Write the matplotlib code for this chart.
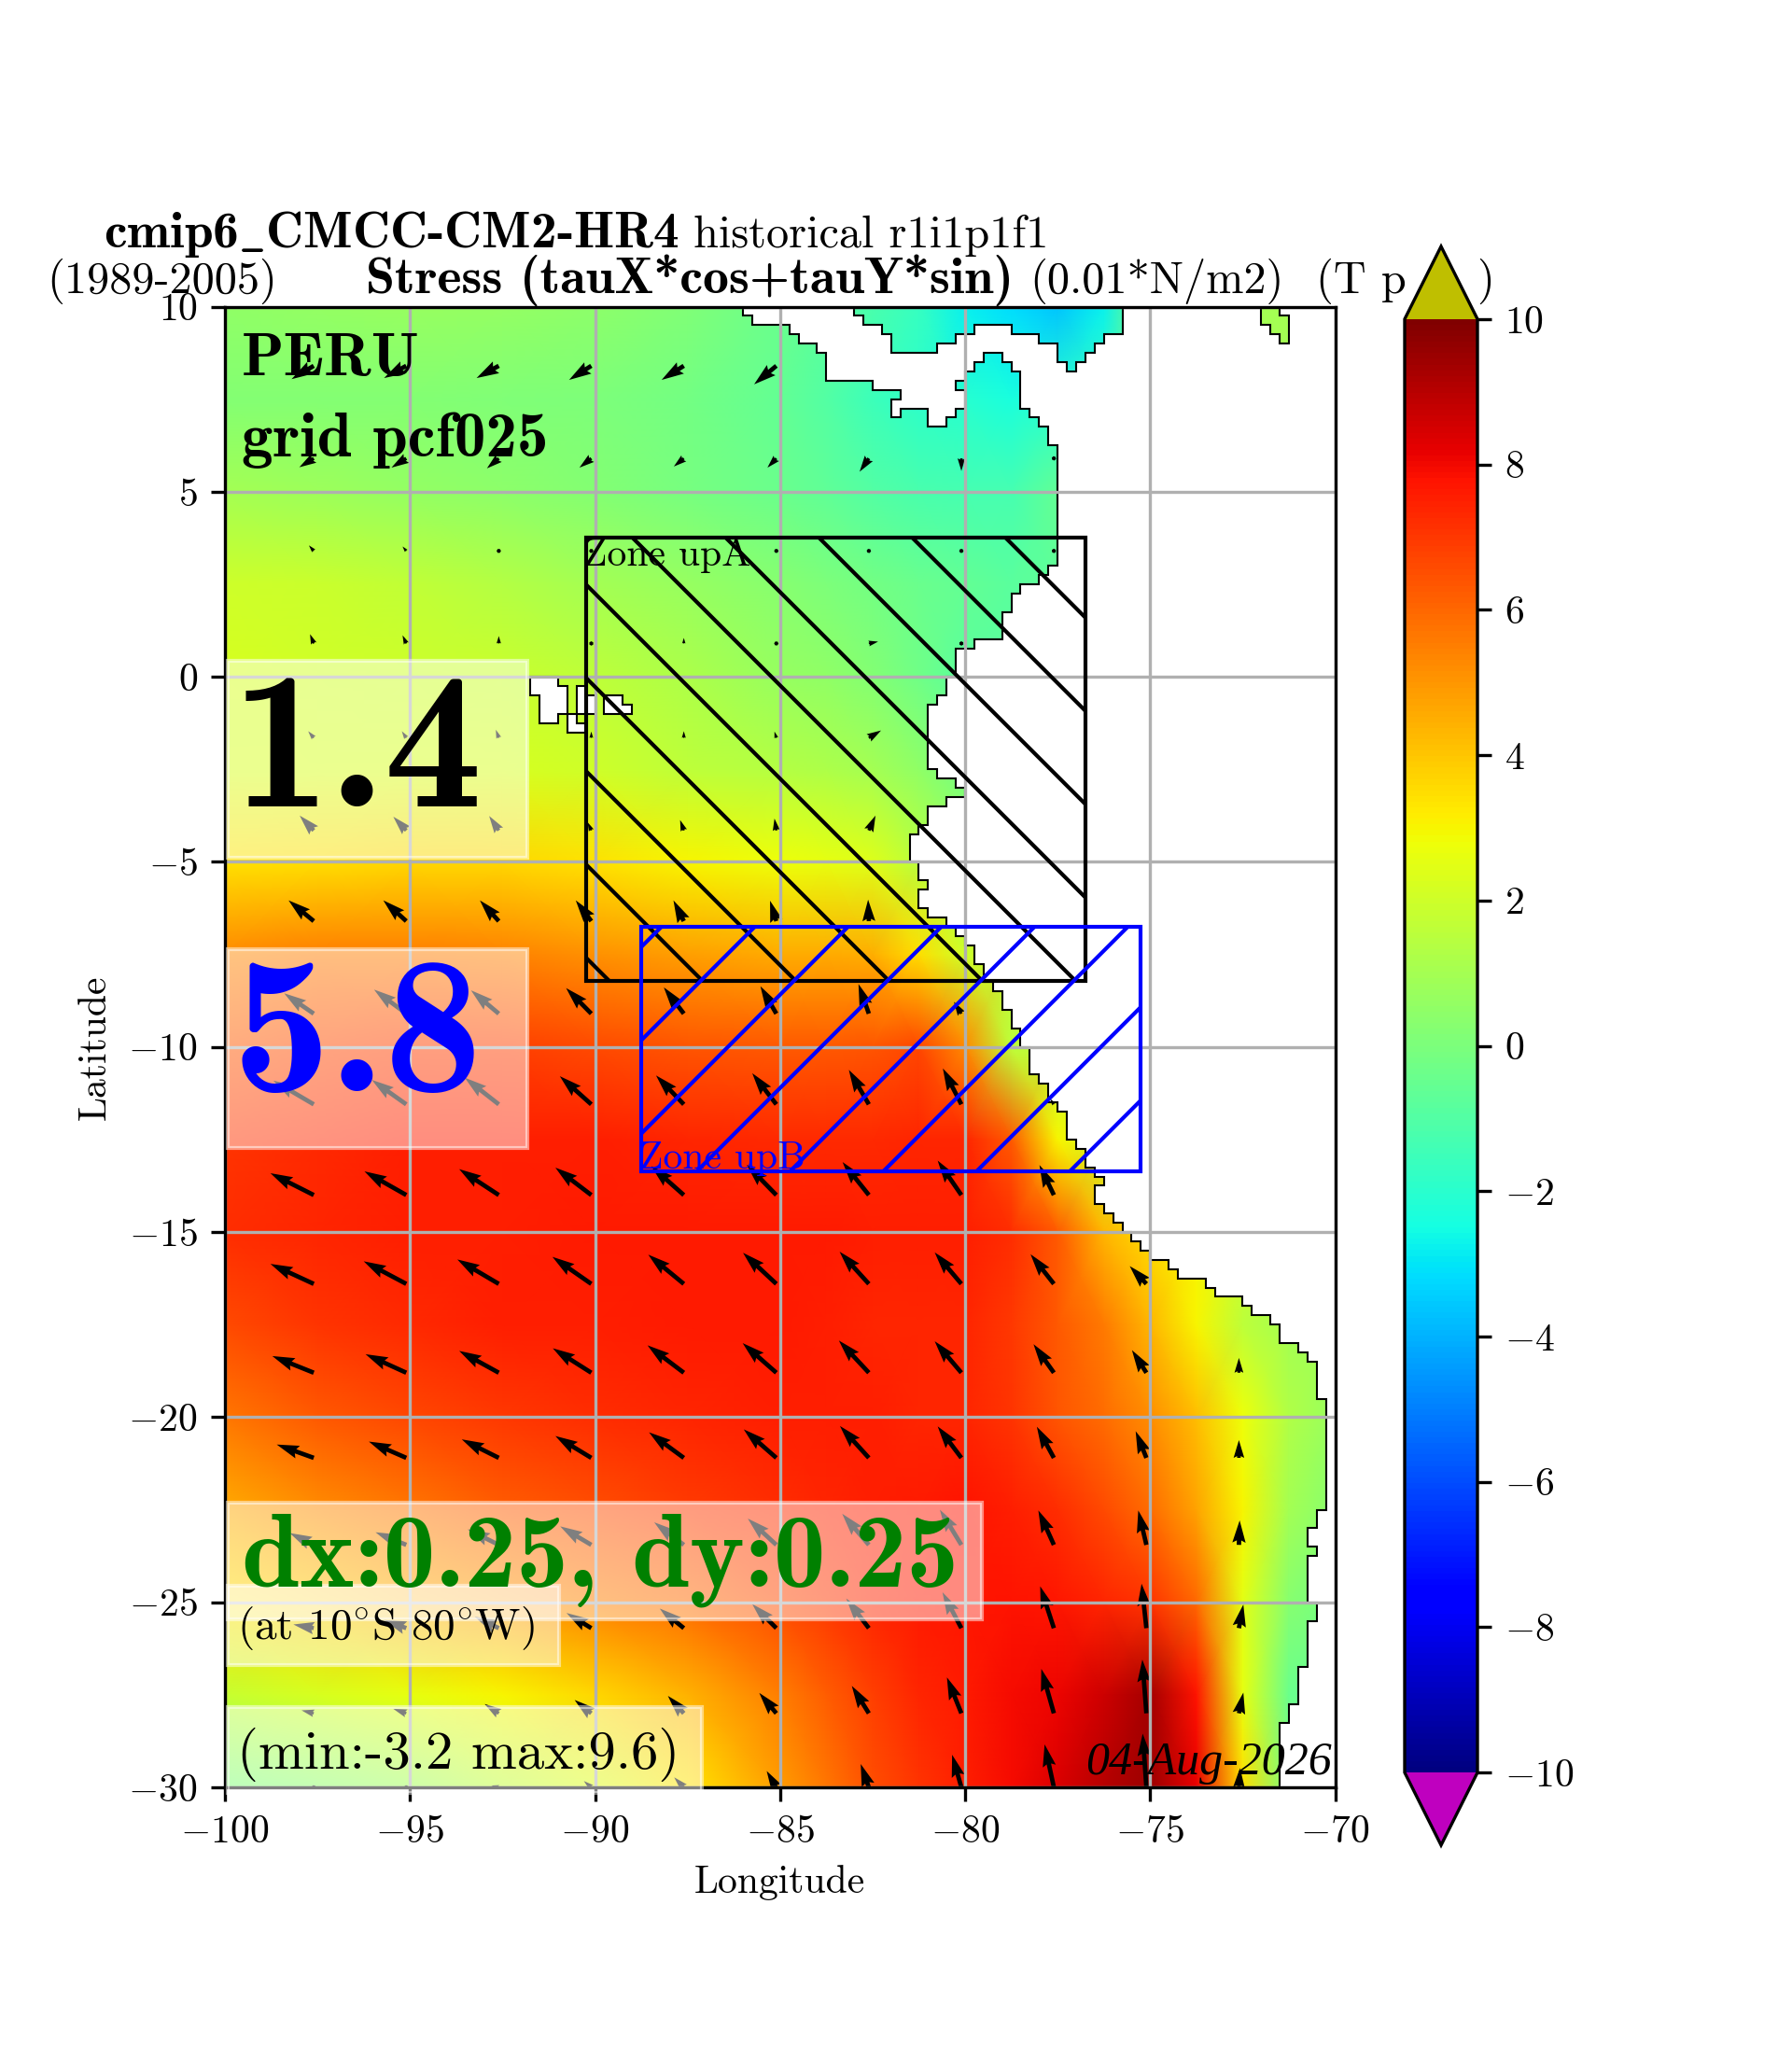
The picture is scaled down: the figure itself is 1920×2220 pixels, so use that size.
import matplotlib
matplotlib.use('Agg')
import matplotlib.pyplot as plt
from matplotlib.path import Path
from matplotlib.patches import PathPatch, Rectangle, Polygon
import numpy as np

plt.rcParams['font.family'] = ['cmr10', 'DejaVu Sans']
plt.rcParams['axes.formatter.use_mathtext'] = True
plt.rcParams['mathtext.fontset'] = 'cm'
plt.rcParams['font.size'] = 10

# stress field (0.01*N/m2)
grid_lon = [-100, -97.5, -95, -92.5, -90, -87.5, -85, -83.75, -82.5, -81.25, -80, -78.75, -77.5, -76.25, -75, -73.75, -72.5, -71.25, -70]
grid_lat = [10, 7.5, 5, 2.5, 0, -2.5, -5, -7.5, -10, -12.5, -15, -17.5, -20, -22.5, -25, -27.5, -30]
stress = [
    [.5, .6, .7, .6, .4, .1, -.4, -.8, -1.2, -1.7, -2.8, -3.2, -3.6, -2.8, .5, 1, 1, 1, 1],
    [.2, .2, .2, .1, 0, -.2, -.6, -1, -1.5, -1.9, -2.1, -2.4, -2, -1.5, .5, 1, 1, 1, 1],
    [1, .8, .6, .4, .2, -.1, -.4, -.7, -1, -1.2, -1.3, -1.3, -.6, -1, .5, 1, 1, 1, 1],
    [2, 1.9, 1.7, 1.4, 1, .7, .3, 0, -.2, -.4, -.6, -.8, -.7, -.7, .5, 1, 1, 1, 1],
    [2.2, 2.1, 2, 1.9, 1.6, 1.2, .7, .5, .2, -.3, -.8, -.8, -.8, -.5, .5, 1, 1, 1, 1],
    [2.2, 2.2, 2.2, 2.2, 2, 1.6, 1.4, 1.2, 1, .5, -.2, 0, 0, 0, .5, 1, 1, 1, 1],
    [3.4, 3.5, 3.6, 3.6, 3.4, 3, 2.8, 2.6, 2.4, 1.5, 1, 1, 1, 1, 1, 1, 1, 1, 1],
    [5.3, 5.5, 5.5, 5.4, 5.1, 4.8, 4.6, 4.6, 4.5, 3.5, 2, 1.5, 1.5, 1.5, 1.5, 1, 1, 1, 1],
    [6.3, 6.6, 6.8, 6.8, 6.6, 6.4, 6.3, 6.3, 6.4, 6.7, 5.3, 1.6, 1.5, 1.5, 1.5, 1, 1, 1, 1],
    [7.1, 7.3, 7.5, 7.5, 7.5, 7.4, 7.3, 7.3, 7.3, 7.4, 7.4, 6.3, 3, 2, 2, 2, 1, 1, 1],
    [7.2, 7.4, 7.5, 7.5, 7.6, 7.6, 7.6, 7.6, 7.5, 7.5, 7.5, 7.2, 6.3, 4.3, 3.5, 3, 2, 1, 1],
    [6.6, 7.1, 7.3, 7.5, 7.5, 7.6, 7.6, 7.5, 7.4, 7.4, 7.4, 7, 6.3, 5.6, 4.3, 3, 1.6, 1, 1],
    [5.7, 6.3, 6.7, 7, 7.2, 7.4, 7.5, 7.5, 7.5, 7.4, 7.4, 7.1, 6.4, 5.9, 5.2, 4.2, 2.8, 1.3, .7],
    [4.6, 5.2, 5.7, 6.2, 6.5, 6.9, 7.2, 7.4, 7.5, 7.6, 7.8, 7.5, 7.2, 6.6, 5.9, 4.7, 3, 1, .3],
    [3.4, 3.9, 4.4, 4.9, 5.4, 5.9, 6.6, 7, 7.4, 7.6, 7.7, 7.8, 7.7, 7.4, 7.1, 6, 2.5, .3, -.2],
    [1.8, 2.2, 2.6, 3, 3.6, 4.4, 5.5, 6.2, 6.8, 7.4, 7.6, 7.9, 8.1, 8.6, 9.3, 7.8, 2.6, -.4, -.5],
    [0, .4, .9, 1.7, 2.4, 3.3, 4.9, 5.7, 6.5, 7.1, 7.5, 7.9, 8.4, 9, 9.5, 8.2, 3.5, 0, 0],
]

# wind arrows, in degrees on the map, nan where there is land
arrow_lon = [-97.6, -95.1, -92.6, -90.1, -87.6, -85.1, -82.6, -80.1, -77.6, -75.1, -72.6]
arrow_lat = [8.4, 5.9, 3.4, .9, -1.65, -4.15, -6.6, -9.1, -11.55, -14, -16.4, -18.8, -21.1, -23.45, -25.7, -28, -30]
n = np.nan
arrow_u = [
    [-.6, -.6, -.6, -.6, -.6, -.6, n, n, n, n, n],
    [-.39, -.4, -.32, -.32, -.27, -.24, -.25, 0, -.05, n, n],
    [-.13, -.1, 0, .03, 0, 0, -.03, -.05, -.07, n, n],
    [-.1, -.1, 0, 0, 0, -.05, .25, -.1, n, n, n],
    [-.15, -.12, -.08, 0, 0, -.05, .33, n, n, n, n],
    [-.38, -.35, -.26, -.1, -.1, -.05, .18, n, n, n, n],
    [-.68, -.62, -.51, -.42, -.28, -.17, -.02, n, n, n, n],
    [-.8, -.87, -.75, -.68, -.54, -.43, -.28, -.2, n, n, n],
    [-1.09, -.93, -.92, -.85, -.75, -.65, -.54, -.5, -.1, n, n],
    [-1.17, -1.13, -1.07, -.97, -.88, -.8, -.71, -.64, -.39, n, n],
    [-1.17, -1.15, -1.12, -1.05, -.96, -.9, -.79, -.72, -.63, -.45, n],
    [-1.12, -1.1, -1.07, -1.04, -.98, -.91, -.81, -.72, -.55, -.39, 0],
    [-1, -1.01, -1, -.97, -.94, -.88, -.78, -.64, -.46, -.29, 0],
    [-.65, -.83, -.84, -.84, -.8, -.77, -.72, -.58, -.42, -.22, .02],
    [-.55, -.6, -.65, -.67, -.65, -.65, -.61, -.51, -.37, -.13, .12],
    [-.33, -.35, -.38, -.45, -.43, -.46, -.46, -.39, -.34, -.11, .12],
    [-.05, -.05, -.2, -.2, -.26, -.26, -.22, -.25, -.25, -.1, .03],
]
arrow_v = [
    [-.36, -.33, -.33, -.38, -.38, -.5, n, n, n, n, n],
    [-.24, -.25, -.27, -.25, -.22, -.25, -.36, -.34, -.05, n, n],
    [.15, .12, 0, .05, 0, 0, .07, .08, .04, n, n],
    [.25, .22, .2, .1, .15, .1, .05, .05, n, n, n],
    [.18, .18, .22, .17, .18, .17, .2, n, n, n, n],
    [.4, .37, .39, .22, .28, .32, .4, n, n, n, n],
    [.56, .56, .56, .56, .56, .55, .58, n, n, n, n],
    [.55, .65, .63, .69, .71, .74, .8, .32, n, n, n],
    [.64, .66, .72, .76, .78, .84, .93, .97, .15, n, n],
    [.59, .64, .7, .74, .78, .82, .89, .93, .81, n, n],
    [.54, .61, .66, .73, .79, .84, .87, .85, .8, .48, n],
    [.45, .5, .59, .66, .74, .8, .87, .85, .77, .61, .4],
    [.36, .44, .5, .59, .69, .77, .86, .85, .84, .72, .48],
    [.32, .34, .42, .5, .61, .71, .84, .95, .93, .93, .66],
    [.1, .22, .31, .41, .53, .65, .8, .97, 1.13, 1.2, .64],
    [.08, .12, .25, .36, .47, .55, .74, .97, 1.2, 1.45, .56],
    [.02, .02, .05, .17, .27, .44, .63, .88, 1.16, 1.45, .52],
]

# coastline of the Pacific side, north to south, cell corners (lon, lat)
coast_pts = [(-86, 10), (-86, 9.75), (-85.75, 9.75), (-85.75, 9.5), (-84.75, 9.5), (-84.75, 9.25), (-84.5, 9.25), (-84.5, 9),
             (-84, 9), (-84, 8.75), (-83.75, 8.75), (-83.75, 8), (-82.5, 8), (-82.5, 7.75), (-81.75, 7.75), (-81.75, 7.5),
             (-82, 7.5), (-82, 7), (-81.75, 7), (-81.75, 7.25), (-81, 7.25), (-81, 6.75), (-80.5, 6.75), (-80.5, 7),
             (-80.25, 7), (-80.25, 7.25), (-80, 7.25), (-80, 7.75), (-80.25, 7.75), (-80.25, 8), (-80, 8), (-80, 8.25),
             (-79.75, 8.25), (-79.75, 8.5), (-79.5, 8.5), (-79.5, 8.75), (-79, 8.75), (-79, 8.5), (-78.75, 8.5), (-78.75, 8.25),
             (-78.5, 8.25), (-78.5, 7.25), (-78.25, 7.25), (-78.25, 7), (-78, 7), (-78, 6.75), (-77.75, 6.75), (-77.75, 6.25),
             (-77.5, 6.25), (-77.5, 3), (-77.75, 3), (-77.75, 2.75), (-78, 2.75), (-78, 2.5), (-78.5, 2.5), (-78.5, 2.25),
             (-78.75, 2.25), (-78.75, 1.75), (-79, 1.75), (-79, 1), (-79.75, 1), (-79.75, .75), (-80.25, .75), (-80.25, 0),
             (-80.5, 0), (-80.5, -.5), (-80.75, -.5), (-80.75, -.75), (-81, -.75), (-81, -2.5), (-80.75, -2.5), (-80.75, -2.75),
             (-80.25, -2.75), (-80.25, -3), (-80, -3), (-80, -3.25), (-80.5, -3.25), (-80.5, -3.5), (-81, -3.5), (-81, -4),
             (-81.25, -4), (-81.25, -4.25), (-81.5, -4.25), (-81.5, -5), (-81.25, -5), (-81.25, -5.5), (-81, -5.5), (-81, -5.75),
             (-81.25, -5.75), (-81.25, -6.25), (-81, -6.25), (-81, -6.5), (-80.5, -6.5), (-80.5, -6.75), (-80.25, -6.75), (-80.25, -7),
             (-80, -7), (-80, -7.25), (-79.75, -7.25), (-79.75, -7.75), (-79.5, -7.75), (-79.5, -8.25), (-79.25, -8.25), (-79.25, -8.5),
             (-79, -8.5), (-79, -9), (-78.75, -9), (-78.75, -9.5), (-78.5, -9.5), (-78.5, -10), (-78.25, -10), (-78.25, -10.75),
             (-78, -10.75), (-78, -11), (-77.75, -11), (-77.75, -11.5), (-77.5, -11.5), (-77.5, -11.75), (-77.25, -11.75), (-77.25, -12.5),
             (-77, -12.5), (-77, -12.75), (-76.75, -12.75), (-76.75, -13.25), (-76.5, -13.25), (-76.5, -13.5), (-76.25, -13.5), (-76.25, -13.75),
             (-76.5, -13.75), (-76.5, -14.25), (-76.25, -14.25), (-76.25, -14.5), (-76, -14.5), (-76, -14.75), (-75.75, -14.75), (-75.75, -15),
             (-75.5, -15), (-75.5, -15.25), (-75.25, -15.25), (-75.25, -15.5), (-75, -15.5), (-75, -15.75), (-74.5, -15.75), (-74.5, -16),
             (-74.25, -16), (-74.25, -16.25), (-73.5, -16.25), (-73.5, -16.5), (-73.25, -16.5), (-73.25, -16.75), (-72.5, -16.75), (-72.5, -17),
             (-72.25, -17), (-72.25, -17.25), (-71.75, -17.25), (-71.75, -17.5), (-71.5, -17.5), (-71.5, -18), (-71, -18), (-71, -18.25),
             (-70.75, -18.25), (-70.75, -18.5), (-70.5, -18.5), (-70.5, -19.5), (-70.25, -19.5), (-70.25, -22.5), (-70.5, -22.5), (-70.5, -23),
             (-70.75, -23), (-70.75, -23.5), (-70.5, -23.5), (-70.5, -23.75), (-70.75, -23.75), (-70.75, -25), (-70.5, -25), (-70.5, -25.5),
             (-70.75, -25.5), (-70.75, -26.75), (-71, -26.75), (-71, -27.75), (-71.25, -27.75), (-71.25, -28.25), (-71.5, -28.25), (-71.5, -30),
             (-100, -30), (-100, 10)]
caribbean_pts = [(-83, 10), (-83, 9.75), (-82.75, 9.75), (-82.75, 9.5), (-82.25, 9.5), (-82.25, 9.25), (-82, 9.25), (-82, 8.75),
                 (-80.75, 8.75), (-80.75, 9), (-80.25, 9), (-80.25, 9.25), (-79.75, 9.25), (-79.75, 9.5), (-78.75, 9.5), (-78.75, 9.25),
                 (-78, 9.25), (-78, 9), (-77.5, 9), (-77.5, 8.5), (-77.25, 8.5), (-77.25, 8.25), (-77, 8.25), (-77, 8.5),
                 (-76.75, 8.5), (-76.75, 8.75), (-76.5, 8.75), (-76.5, 9), (-76.25, 9), (-76.25, 9.25), (-75.75, 9.25), (-75.75, 10)]
lake_pts = [(-72, 10), (-72, 9.5), (-71.75, 9.5), (-71.75, 9.25), (-71.5, 9.25), (-71.5, 9), (-71.25, 9), (-71.25, 9.75), (-71.5, 9.75), (-71.5, 10)]
islands = [
    [(-91.75, 0), (-91, 0), (-91, -.25), (-90.75, -.25), (-90.75, -1), (-91, -1), (-91, -1.25), (-91.5, -1.25), (-91.5, -.5), (-91.75, -.5)],
    [(-90.5, -.25), (-90.25, -.25), (-90.25, -.5), (-90, -.5), (-90, -1), (-90.5, -1)],
    [(-89.75, -.5), (-89.25, -.5), (-89.25, -.75), (-89, -.75), (-89, -1), (-89.75, -1)],
    [(-90.75, -1.5), (-90.25, -1.5), (-90.25, -1.25), (-90.5, -1.25), (-90.5, -1), (-90.75, -1)],
]

# zones: west, east, south, north and where their hatch lines cross
zone_a = (-90.25, -76.75, -8.22, 3.75)
zone_b = (-88.75, -75.25, -13.35, -6.75)
hatch_a = [-97.83, -95.31, -92.79, -90.27, -87.75, -85.23, -82.71, -80.19, -77.67, -75.15]
hatch_b = [-81.45, -78.93, -76.41, -73.89, -71.37, -68.85, -66.33, -63.81]

# white boxes behind the numbers: west, east, south, north
box_mean = (-99.93, -91.83, -4.89, .43)
box_up = (-99.93, -91.83, -12.72, -7.37)
box_res = (-99.93, -79.54, -25.45, -22.31)
box_loc = (-99.93, -90.97, -26.7, -24.55)
box_rng = (-99.93, -87.1, -30.15, -27.82)

x_ticks = [-100, -95, -90, -85, -80, -75, -70]
y_ticks = [-30, -25, -20, -15, -10, -5, 0, 5, 10]
cbar_ticks = [-10, -8, -6, -4, -2, 0, 2, 4, 6, 8, 10]

W, H = 1920, 2220
fig = plt.figure(figsize=(6.4, 7.4), dpi=300)
ax = fig.add_axes([241/W, 1-1915/H, 1189.5/W, 1586.5/H])
ax.set_zorder(0)

cmap = plt.get_cmap('jet').copy()
cmap.set_over('y')
cmap.set_under('m')
mesh = ax.pcolormesh(grid_lon, grid_lat, np.array(stress), shading='gouraud', cmap=cmap, vmin=-10, vmax=10, zorder=.5)
ocean = Path.make_compound_path(Path(coast_pts + [coast_pts[0]]), Path(caribbean_pts + [caribbean_pts[0]]), Path(lake_pts + [lake_pts[0]]))
mesh.set_clip_path(ocean, ax.transData)
ax.add_patch(PathPatch(ocean, fc='none', ec='k', lw=.5, zorder=.8))
for isl in islands:
    ax.add_patch(Polygon(isl, closed=True, fc='w', ec='k', lw=.5, zorder=.8))

ax.quiver(arrow_lon, arrow_lat, arrow_u, arrow_v, angles='xy', scale_units='xy', scale=1, width=.004, color='k', zorder=1)

ax.set_xlim(-100, -70)
ax.set_ylim(-30, 10)
ax.set_xticks(x_ticks)
ax.set_yticks(y_ticks)
ax.grid(True)
ax.set_xlabel('Longitude')
ax.set_ylabel('Latitude')


def zone(box, offsets, sign, color, label, lx, ly):
    west, east, south, north = box
    rect = Rectangle((west, south), east-west, north-south, fc='none', ec=color, lw=1, zorder=2)
    ax.add_patch(rect)
    for c in offsets:
        if sign < 0:
            ln, = ax.plot([-100, -60], [c+100, c+60], color=color, lw=1, zorder=2)
        else:
            ln, = ax.plot([-100, -60], [-100-c, -60-c], color=color, lw=1, zorder=2)
        ln.set_clip_path(rect)
    ax.text(lx, ly, label, color=color, fontsize=10, zorder=2.6)


zone(zone_a, hatch_a, -1, 'k', 'Zone upA', -90.32, 3.0)
zone(zone_b, hatch_b, 1, 'b', 'Zone upB', -88.8, -13.28)

for west, east, south, north in [box_mean, box_up, box_res, box_loc, box_rng]:
    ax.add_patch(Rectangle((west, south), east-west, north-south, fc='w', ec='w', lw=1, alpha=.5, zorder=2.9, clip_on=False))

bold = ['cmb10', 'DejaVu Sans']
ax.text(-99.55, 8.14, 'PERU', family=bold, fontsize=16)
ax.text(-99.55, 5.96, 'grid pcf025', family=bold, fontsize=16.1)
ax.text(-99.8, -3.5, '1.4', family=bold, fontsize=50.5)
ax.text(-99.8, -11.18, '5.8', family=bold, fontsize=50.5, color='b')
ax.text(-99.55, -24.57, 'dx:0.25, dy:0.25', family=bold, fontsize=26.8, color='g')
ax.text(-99.68, -25.99, '(at 10$^{\\circ}$S 80$^{\\circ}$W)', fontsize=11.3)
ax.text(-99.68, -29.5, '(min:-3.2 max:9.6)', fontsize=14.1)
ax.text(-70.1, -29.64, '04-Aug-2026', family='Liberation Serif', style='italic', fontsize=12, ha='right')

# title pieces, placed by pixel
for px, base, txt, fam, size in [(111, 265, 'cmip6$\\_$CMCC-CM2-HR4', bold, 13.3),
                                 (743, 265, 'historical r1i1p1f1', None, 11.6),
                                 (50, 314, '(1989-2005)', None, 11.6),
                                 (392, 314, 'Stress (tauX*cos+tauY*sin)', bold, 13.4),
                                 (1103, 314, '(0.01*N/m2)', None, 11.6),
                                 (1410, 314, '(T pac j)', None, 11.6)]:
    fig.text(px/W, 1-base/H, txt, fontsize=size, family=fam if fam else plt.rcParams['font.family'],
             ha='left', va='baseline', zorder=.5)

# colorbar axes hides the end of the title
fig.add_artist(Rectangle((1505/W, 1-344/H), 78/W, 80/H, transform=fig.transFigure, fc='w', ec='none', zorder=1))
cax = fig.add_axes([1505/W, 1-1977/H, 78/W, 1713/H])
cax.set_zorder(2)
cb = fig.colorbar(mesh, cax=cax, extend='both')
cb.set_ticks(cbar_ticks)

fig.savefig('out.png', dpi=300)
